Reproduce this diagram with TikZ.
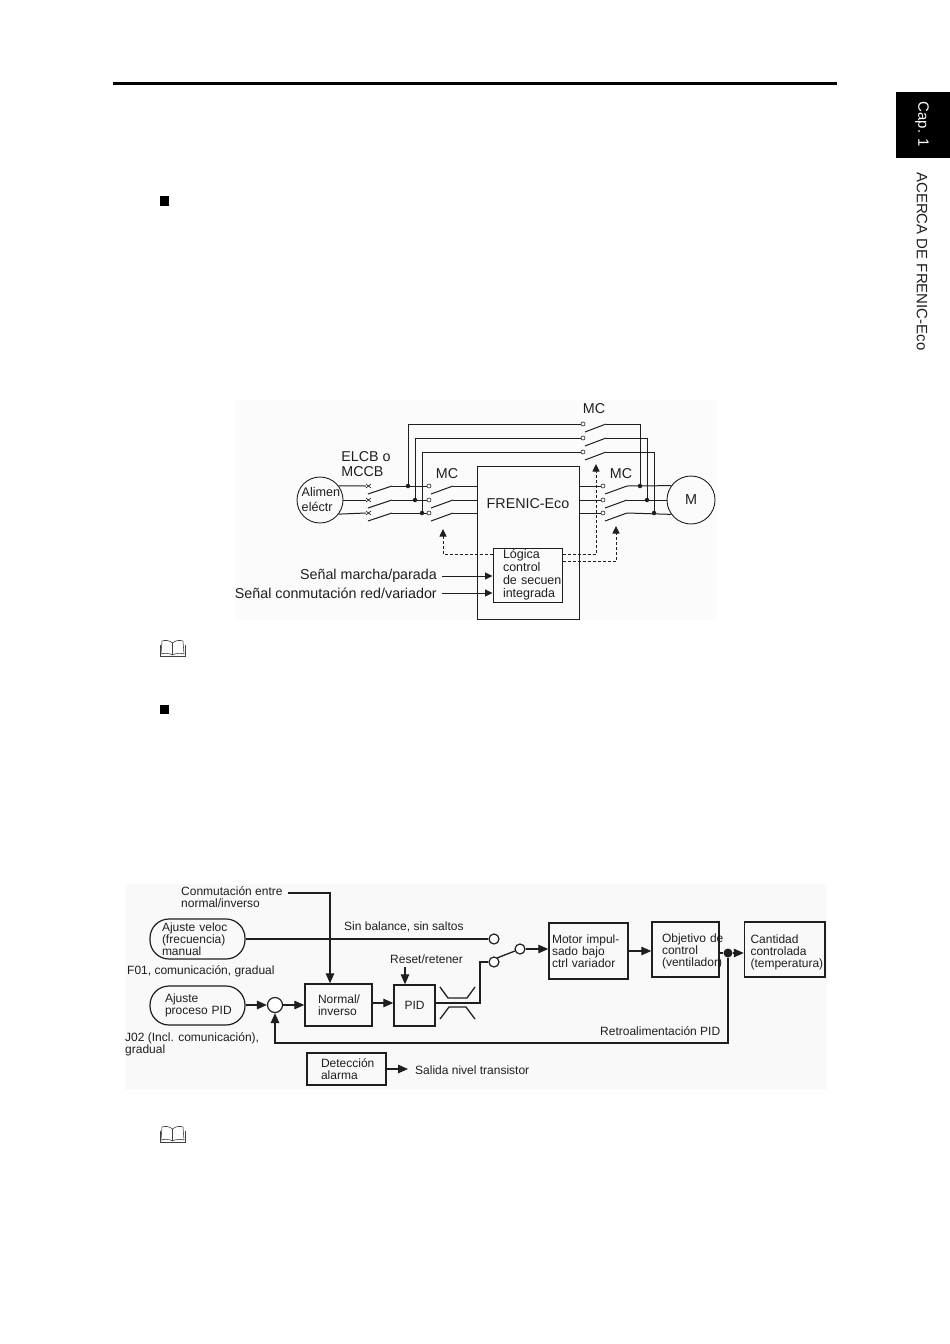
\documentclass[tikz,border=0pt]{standalone}
\usepackage{fontspec}
\setmainfont{Liberation Sans}
\usetikzlibrary{arrows.meta,calc}
\definecolor{ink}{gray}{0.12}
\newcommand{\fA}{\fontsize{12}{12.2}\selectfont}
\newcommand{\fB}{\fontsize{12.5}{13}\selectfont}
\newcommand{\fC}{\fontsize{14.3}{15.6}\selectfont}
\newcommand{\fS}{\fontsize{15}{16}\selectfont}
\tikzset{
  x=1pt,y=-1pt,
  txt/.style={inner sep=0pt,text=ink,align=left},
  wire/.style={draw=ink,line width=1pt},
  wireb/.style={draw=ink,line width=1.3pt},
  arr/.style={-{Triangle[length=7.5pt,width=7pt]}},
  arrb/.style={-{Triangle[length=10pt,width=8.5pt]}},
  dash1/.style={draw=ink,line width=0.9pt,dash pattern=on 3pt off 2pt},
  blk/.style={draw=ink,line width=1.4pt,inner ysep=0pt,align=left,text=ink,font=\fA},
  blkb/.style={blk,line width=1.0pt,font=\fB},
  pill/.style={blk,rounded corners=19pt,line width=1.2pt},
  dotn/.style={circle,fill=ink,inner sep=0pt,minimum size=#1},
  ring/.style={circle,draw=ink,fill=white,inner sep=0pt,line width=1.2pt,minimum size=#1},
  cont/.style={circle,draw=ink,fill=white,inner sep=0pt,line width=0.6pt,minimum size=4pt},
  book/.pic={
    \draw[black!75,line width=0.6pt,fill=white]
      (12.5,3) .. controls (9,0) and (5,0) .. (2,1) -- (1,14) .. controls (5,13) and (9,13) .. (12.5,15)
      .. controls (16,13) and (20,13) .. (24,14) -- (23,1) .. controls (20,0) and (16,0) .. (12.5,3) -- cycle;
    \draw[black!75,line width=0.6pt] (12.5,3) -- (12.5,15) (0,5) -- (0,16) -- (25,16) -- (25,5);
  }
}
\begin{document}
\begin{tikzpicture}
\useasboundingbox (0,0) rectangle (950,1344);
\fill[white] (0,0) rectangle (950,1344);
\fill[black!1.5] (235,400) rectangle (717,620);
\fill[black!2.5] (125,884) rectangle (827,1090);

% page furniture
\draw[black,line width=3pt] (113,83) -- (837,83);
\fill[black] (896,92) rectangle (950,158);
\node[txt,rotate=-90,text=white,font=\fS] (cap) at (922,124.5) {Cap. 1};
\node[txt,rotate=-90,font=\fS] (acerca) at (922,261.5) {ACERCA DE FRENIC-Eco};
\fill[black] (160,196) rectangle (169,206);
\fill[black] (160,705) rectangle (169,714);
\pic at (160,640) {book};
\pic at (160,1126) {book};

% ===== upper diagram =====
\node[circle,draw=ink,line width=0.9pt,minimum size=46pt,inner sep=0pt] (src) at (320,500) {};
\node[txt,font=\fontsize{12.6}{14.5}\selectfont] (srct) at (321,499.5) {Alimen\\eléctr};
\node[circle,draw=ink,line width=0.9pt,minimum size=48pt,inner sep=0pt,text=ink,font=\fontsize{14.4}{15}\selectfont] (mot) at (691,500) {M};
\node[draw=ink,line width=1pt,minimum width=102pt,minimum height=153pt,inner sep=0pt] (fren) at (528,542.5) {};
\node[txt,font=\fontsize{14.3}{15}\selectfont] (frent) at (528,504) {FRENIC-Eco};
\node[blkb,minimum height=54pt,text width=49pt,inner xsep=10pt] (logic) at (527.5,575) {Lógica\\control\\\mbox{de secuen}\\integrada};
\node[txt,font=\fC] (elcb) at (366,464) {ELCB o\\MCCB};
\node[txt,font=\fC] (mc1) at (447,474) {MC};
\node[txt,font=\fC] (mc2) at (621,474) {MC};
\node[txt,font=\fC] (mc3) at (594,409) {MC};
\node[txt,font=\fC,anchor=east] (sig1) at (437,576) {Señal marcha/parada};
\node[txt,font=\fC,anchor=east] (sig2) at (437,593) {Señal conmutación red/variador};

\foreach \i/\ang/\y/\dx/\ty/\rx/\mang in {1/37/486/408/424/640/144,2/0/500/415/438/647/180,3/-37/513/422/452/654/216}{
  % incoming wire to ELCB
  \coordinate (e\i) at (366,\y);
  \draw[wire] (src.\ang) -- (e\i);
  \draw[draw=ink,line width=0.6pt] (366,\y-2) -- (371,\y+2) (366,\y+2) -- (371,\y-2);
  % ELCB blade and wire on to MC
  \coordinate (eb\i) at (392,\y);
  \draw[wire] (368,\y+8) -- (eb\i);
  \node[cont] (ca\i) at (429,\y) {};
  \draw[wire] (eb\i) -- (ca\i);
  % MC blade and wire to inverter
  \coordinate (mb\i) at (453,\y);
  \draw[wire] (431,\y+8) -- (mb\i);
  \draw[wire] (mb\i) -- (fren.west |- mb\i);
  % inverter output
  \node[cont] (cb\i) at (603,\y) {};
  \draw[wire] (fren.east |- cb\i) -- (cb\i);
  \coordinate (ob\i) at (627,\y);
  \draw[wire] (605,\y+8) -- (ob\i);
  \draw[wire] (ob\i) -- (mot.\mang);
  % bypass
  \node[dotn=4.5pt] (ld\i) at (\dx,\y) {};
  \node[dotn=4.5pt] (rd\i) at (\rx,\y) {};
  \node[cont] (cc\i) at (583,\ty) {};
  \coordinate (bb\i) at (606,\ty);
  \draw[wire] (ld\i) |- (cc\i);
  \draw[wire] (585,\ty+8) -- (bb\i);
  \draw[wire] (bb\i) -| (rd\i);
}
\coordinate (d1) at (443,529);
\coordinate (d2) at (596,464);
\coordinate (d3) at (616,526);
\draw[dash1,arr] (logic.west |- 0,554) -| (d1);
\draw[dash1,arr] (logic.east |- 0,554) -| (d2);
\draw[dash1,arr] (logic.east |- 0,561) -| (d3);
\draw[wire,arr] ([xshift=5pt]sig1.east) -- (logic.west |- sig1.east);
\draw[wire,arr] ([xshift=5pt]sig2.east) -- (logic.west |- sig2.east);

% ===== lower diagram =====
\node[pill,minimum height=40pt,text width=71pt,inner xsep=12pt] (veloc) at (197.5,939) {Ajuste veloc\\(frecuencia)\\manual};
\node[pill,minimum height=39pt,text width=65pt,inner xsep=15pt] (pidset) at (197.5,1005.5) {Ajuste\\\mbox{proceso PID}};
\node[ring=15pt] (sum) at (275,1005) {};
\node[blk,minimum height=42pt,text width=41pt,inner xsep=13pt] (norm) at (338.5,1005) {\mbox{Normal/}\\inverso};
\node[blk,minimum width=41pt,minimum height=41pt,inner xsep=0pt] (pid) at (414.5,1005.5) {PID};
\node[blk,minimum height=56pt,text width=73pt,inner xsep=3pt] (motor) at (588.5,951) {\mbox{Motor impul-}\\sado bajo\\\mbox{ctrl variador}};
\node[blk,minimum height=55pt,text width=47pt,inner xsep=10pt] (obj) at (685.5,949.5) {\rule{0pt}{13pt}\mbox{Objetivo de}\\control\\\mbox{(ventilador)}};
\node[blk,minimum height=55pt,text width=68.5pt,inner xsep=6pt] (cant) at (784.75,949.5) {\rule{0pt}{14pt}Cantidad\\controlada\\\mbox{(temperatura)}};
\node[blk,minimum height=32pt,text width=51pt,inner xsep=14pt] (det) at (346.5,1069) {\mbox{Detección}\\alarma};
\node[ring=10pt] (t1) at (494,939) {};
\node[ring=10pt] (t2) at (494,962) {};
\node[ring=10pt] (t3) at (520,949) {};
\node[dotn=9pt] (fb) at (728,953) {};

\node[txt,font=\fA,anchor=north west] (conm) at (181,886) {Conmutación entre\\normal/inverso};
\node[txt,font=\fA,anchor=west] (sinb) at (344,927) {Sin balance, sin saltos};
\node[txt,font=\fA,anchor=west] (reset) at (390,959) {Reset/retener};
\node[txt,font=\fA,anchor=west] (f01) at (127,971) {F01, comunicación, gradual};
\node[txt,font=\fA,anchor=north west] (j02) at (125,1032) {J02 (Incl. comunicación),\\gradual};
\node[txt,font=\fA,anchor=west] (retro) at (600,1031) {Retroalimentación PID};
\node[txt,font=\fA,anchor=west] (sal) at (415,1070) {Salida nivel transistor};

\coordinate (cs) at (288,893);
\draw[wireb,arrb] (cs) -| (norm.north -| 330,0);
\draw[wireb] (veloc.east) -- (t1);
\draw[wireb,arrb] (pidset.east |- sum) -- (sum);
\draw[wireb,arrb] (sum) -- (norm.west |- sum);
\draw[wireb,arrb] (norm.east |- 0,1003) -- (pid.west |- 0,1003);
\coordinate (rs) at (405,967);
\draw[wireb,arrb] (rs) -- (pid.north -| rs);
\coordinate (sw) at (480,1003);
\draw[wireb] (pid.east |- sw) -- (sw) -- (480,962) -- (t2);
\draw[wireb] (497,958) -- (t3);
\draw[wireb,arrb] (t3) -- (motor.west |- t3);
\draw[wireb,arrb] (motor.east) -- (obj.west |- motor.east);
\draw[wireb] (obj.east |- fb) -- (fb);
\draw[wireb,arrb] (fb) -- (cant.west |- fb);
\coordinate (fc) at (728,1043);
\draw[wireb,arrb] (fb) -- (fc) -| (sum.south);
\draw[wireb,arrb] (det.east) -- (408,1069);
% hysteresis marks
\draw[wireb] (440,987) -- (448,998) -- (467,998) -- (475,987);
\draw[wireb] (440,1019) -- (449,1007) -- (466,1007) -- (475,1019);
\end{tikzpicture}
\end{document}
